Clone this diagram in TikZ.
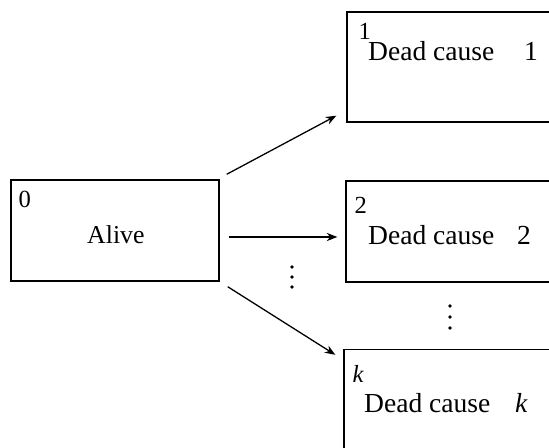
\documentclass[tikz,border=0pt]{standalone}
\usepackage{fontspec}
\setmainfont{Liberation Serif}
\usetikzlibrary{calc,positioning,arrows.meta}
\tikzset{
  statebox/.style={draw,line width=1.2pt,rectangle,inner sep=0pt},
  numlbl/.style={anchor=north west,inner sep=0pt,font=\fontsize{21}{25}\selectfont},
  txt/.style={anchor=base west,inner sep=0pt,font=\fontsize{22}{26}\selectfont},
  deadtxt/.style={txt,font=\fontsize{23.5}{28}\selectfont},
  arr/.style={-{Stealth[length=9pt,width=7pt]},line width=1.1pt}
}

\begin{document}
\begin{tikzpicture}[x=0.03cm,y=-0.03cm]
    \useasboundingbox (0,0) rectangle (549,448);
    \clip (0,0) rectangle (549,448);
    % states
    \node[statebox,minimum width=6.24cm,minimum height=3.03cm] (alive) at (115,230.5) {};
    \node[statebox,minimum width=6.69cm,minimum height=3.3cm] (dead1) at (458.5,67) {};
    \node[statebox,minimum width=6.72cm,minimum height=3.03cm] (dead2) at (458,231.5) {};
    \node[statebox,minimum width=6.78cm,minimum height=3.33cm] (deadk) at (457,405) {};
    %labels
    \node[numlbl] (n0) at ($(alive.north west)+(8,12)$) {0};
    \node[numlbl] (n1) at ($(dead1.north west)+(12,12)$) {1};
    \node[numlbl] (n2) at ($(dead2.north west)+(9,17)$) {2};
    \node[numlbl] (nk) at ($(deadk.north west)+(9,16)$) {\itshape k};
    \node[txt] (t0) at (87,243) {Alive};
    \node[deadtxt] (t1) at (368,61) {Dead cause};
    \node[deadtxt] (c1) at (524,61) {1};
    \node[deadtxt] (t2) at (368,244) {Dead cause};
    \node[deadtxt] (c2) at (517,244) {2};
    \node[deadtxt] (tk) at (364,412) {Dead cause};
    \node[deadtxt] (ck) at (515,412) {\itshape k};
    % dots
    \foreach \yy in {267,277,287} \fill (292,\yy) circle (1.8);
    \foreach \yy in {306,317,328} \fill (450,\yy) circle (1.8);
    % transitions
    \coordinate (s1) at ($(alive.north east)+(7,-5)$);
    \coordinate (s2) at ($(alive.east)+(9,6.5)$);
    \coordinate (s3) at ($(alive.south east)+(8,5)$);
    \coordinate (e1) at ($(dead1.south west)+(-10,-7)$);
    \coordinate (e2) at ($(dead2.west)+(-8,5.5)$);
    \coordinate (e3) at ($(deadk.north west)+(-8,6)$);
    \draw[arr] (s1) -- (e1);
    \draw[arr] (s2) -- (e2);
    \draw[arr] (s3) -- (e3);
\end{tikzpicture}
\end{document}
